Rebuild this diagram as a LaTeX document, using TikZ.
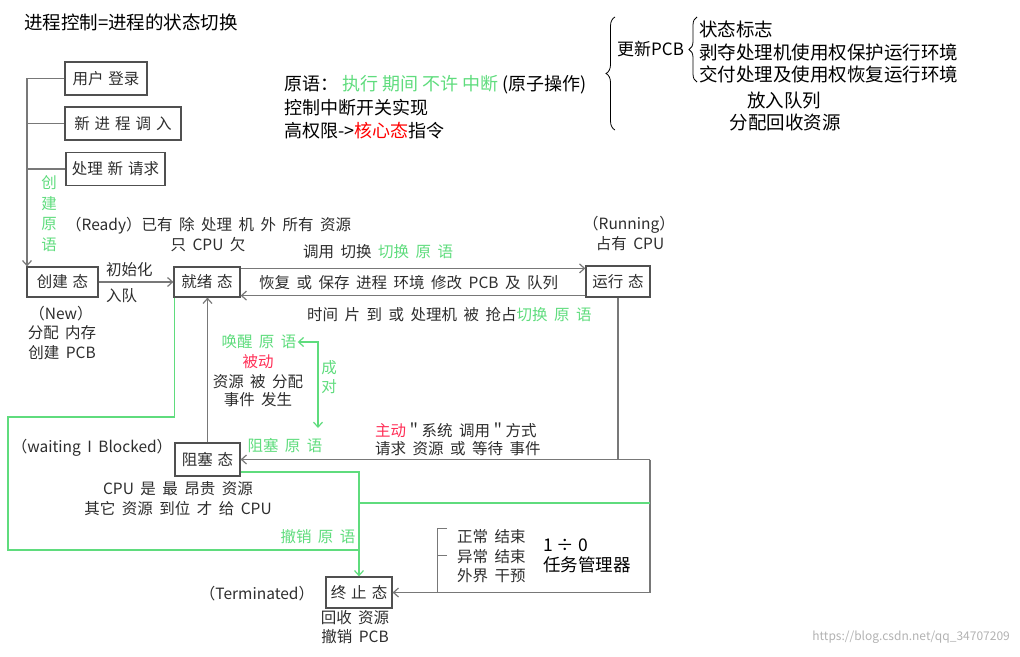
\documentclass[tikz,border=0pt]{standalone}
\usepackage{fontspec}
\setmainfont{Noto Sans CJK SC}
\usetikzlibrary{arrows.meta,positioning,decorations.pathreplacing}
\definecolor{LineGray}{RGB}{120,120,120}
\definecolor{BoxGray}{RGB}{80,80,80}
\definecolor{TextGray}{RGB}{45,45,45}
\definecolor{PrimGreen}{RGB}{95,220,125}
\definecolor{HotRed}{RGB}{255,45,85}
\newcommand\boxspace{\spaceskip=5pt plus 1pt\relax}
\newcommand\lblspace{\spaceskip=6.5pt plus 1pt\relax}

\begin{document}
\begin{tikzpicture}[x=1pt,y=-1pt,state/.style={rectangle,draw=BoxGray,line width=1.2pt,inner sep=0pt,minimum height=31pt,text=TextGray,font=\fontsize{15.5}{18}\selectfont\boxspace},item/.style={state,minimum height=33pt},lbl/.style={text=TextGray,inner sep=0pt,font=\fontsize{15.5}{20}\selectfont\lblspace},glbl/.style={lbl,text=PrimGreen},note/.style={inner sep=0pt,font=\fontsize{18}{22}\selectfont},pcbtxt/.style={inner sep=0pt,font=\fontsize{18.5}{22}\selectfont},line/.style={draw=LineGray,line width=1.2pt},arrow/.style={line,-{Straight Barb[length=5pt,width=9pt]}},gline/.style={draw=PrimGreen,line width=1.2pt},garrow/.style={gline,-{Straight Barb[length=5pt,width=9pt]}},brace/.style={decorate,decoration={brace,amplitude=#1},line width=0.8pt}]
\useasboundingbox (0,0) rectangle (1020,656);
% notes on top
\node[note,anchor=west,font=\fontsize{18.5}{20}\selectfont](title) at (24,22){进程控制=进程的状态切换};
\node[note,anchor=west](prim) at (284,85){原语：\ \textcolor{PrimGreen}{执行 期间 不许 中断} (原子操作)};
\node[note,anchor=west](intr) at (284,108){控制中断开关实现};
\node[note,anchor=west](priv) at (284,131){高权限->\textcolor{red}{核心态}指令};
\coordinate (bigtop) at (615,17);
\coordinate (bigbot) at (615,130);
\draw[brace=9pt](bigbot)--(bigtop);
\node[pcbtxt,anchor=west,font=\fontsize{17}{20}\selectfont](upd) at (617,49){更新PCB};
\coordinate (smalltop) at (697,17);
\coordinate (smallbot) at (697,82);
\draw[brace=8pt](smallbot)--(smalltop);
\node[pcbtxt,anchor=west](flag) at (699,29){状态标志};
\node[pcbtxt,anchor=west](save) at (699,52){剥夺处理机使用权保护运行环境};
\node[pcbtxt,anchor=west](restore) at (699,74){交付处理及使用权恢复运行环境};
\node[pcbtxt](queue) at (784,100){放入队列};
\node[pcbtxt](alloc) at (785,122){分配回收资源};
% states
\node[state,minimum width=71pt,minimum height=30pt](create) at (62.5,282){创建 态};
\node[state,minimum width=66pt,minimum height=30pt](ready) at (207,282){就绪 态};
\node[state,minimum width=64pt](run) at (618,281.5){运行 态};
\node[state,minimum width=65pt,minimum height=33pt](block) at (207.5,459.5){阻塞 态};
\node[state,minimum width=66pt](term) at (359,592.5){终 止 态};
% creation causes
\node[item,minimum width=82pt](login) at (106,78.5){用户 登录};
\node[item,minimum width=116pt](load) at (123,123.5){新 进 程 调 入};
\node[item,minimum width=99pt](req) at (115.5,169){处理 新 请求};
\draw[arrow](login.west)-|([xshift=0.6pt]create.north west);
\draw[line](load.west)--(load.west-|create.west);
\draw[line](req.west)--(req.west-|create.west);
\node[glbl,align=center,font=\fontsize{15.5}{20.5}\selectfont](crtprim) at (49,213.5){创\\建\\原\\语};
% labels
\node[lbl,anchor=west](readyinfo) at (66,226){（Ready）已有 除 处理 机 外 所有 资源};
\node[lbl](cpuonly) at (208,245){只 CPU 欠};
\node[lbl,anchor=west](dispatch) at (303,252){调用 切换 \textcolor{PrimGreen}{切换 原 语}};
\node[lbl,anchor=west](context) at (259,283){恢复 或 保存 进程 环境 修改 PCB 及 队列};
\node[lbl,anchor=west](preempt) at (307,315){时间 片 到 或 处理机 被 抢占\textcolor{PrimGreen}{切换 原 语}};
\node[lbl](runname) at (629,225){（Running）};
\node[lbl](runinfo) at (630,244){占有 CPU};
\node[lbl,anchor=west](init) at (106,270){初始化};
\node[lbl,anchor=west](enq) at (106,296){入队};
\node[lbl](newname) at (61,314){（New）};
\node[lbl](newmem) at (62,333){分配 内存};
\node[lbl](newpcb) at (62,353){创建 PCB};
\node[glbl](wake) at (259,342){唤醒 原 语};
\node[lbl,text=HotRed](passive) at (258,362){被动};
\node[lbl](granted) at (258,382){资源 被 分配};
\node[lbl](occur) at (258,400){事件 发生};
\node[glbl,align=center,font=\fontsize{15.5}{19}\selectfont](paired) at (329,377){成\\对};
\node[lbl](blockname) at (92,448){（waiting I Blocked）};
\node[glbl](blockprim) at (285,446){阻塞 原 语};
\node[lbl,anchor=west](active) at (375,430){\textcolor{HotRed}{主动}＂系统 调用＂方式};
\node[lbl,anchor=west](waitreq) at (375,449){请求 资源 或 等待 事件};
\node[lbl](costly) at (178,489){CPU 是 最 昂贵 资源};
\node[lbl](others) at (178,509){其它 资源 到位 才 给 CPU};
\node[glbl](killprim) at (318,537){撤销 原 语};
\node[lbl,anchor=west](normal) at (457,537){正常 结束};
\node[lbl,anchor=west](abnormal) at (457,557){异常 结束};
\node[lbl,anchor=west](outside) at (457,576){外界 干预};
\node[note,anchor=west,font=\fontsize{17.5}{22}\selectfont](divzero) at (543,545){1 ÷ 0};
\node[note,anchor=west,font=\fontsize{17.5}{22}\selectfont](taskmgr) at (543,565){任务管理器};
\node[lbl](termname) at (257,594){（Terminated）};
\node[lbl](reclaim) at (355,618){回收 资源};
\node[lbl](droppcb) at (355,637){撤销 PCB};
\node[inner sep=0pt,anchor=east,text=black!30,font=\fontsize{12}{14}\selectfont](mark) at (1010,637){https://blog.csdn.net/qq\_34707209};
% transitions
\draw[arrow](create)--(ready);
\coordinate (rdout) at ([yshift=-2pt]ready.north east);
\draw[arrow](rdout)--(rdout-|run.west);
\coordinate (rnback) at ([yshift=2pt]run.south west);
\draw[arrow](rnback)--(rnback-|ready.east);
\coordinate (turn) at (650,459.5);
\draw[arrow](run.south)|-(block.east);
\draw[line](block.east-|run.south)--(turn);
\draw[arrow](turn)|-(term.east);
\draw[arrow](block.north)--(block.north|-ready.south);
\draw[line,line width=1pt](447,528)--(437,528)--(437,592.5) (447,555)--(437,555);
% green primitives
\coordinate (pair) at (318,428);
\draw[garrow,{Straight Barb[length=5pt,width=9pt]}-{Straight Barb[length=5pt,width=9pt]}]([xshift=1pt]wake.east)-|(pair);
\draw[gline]([xshift=1pt]ready.south west)|-(8,417)|-(359,550);
\draw[garrow]([yshift=-12.5pt]block.east)-|(term.north);
\draw[gline](turn|-0,503)--(term.north|-0,503);
\end{tikzpicture}
\end{document}
